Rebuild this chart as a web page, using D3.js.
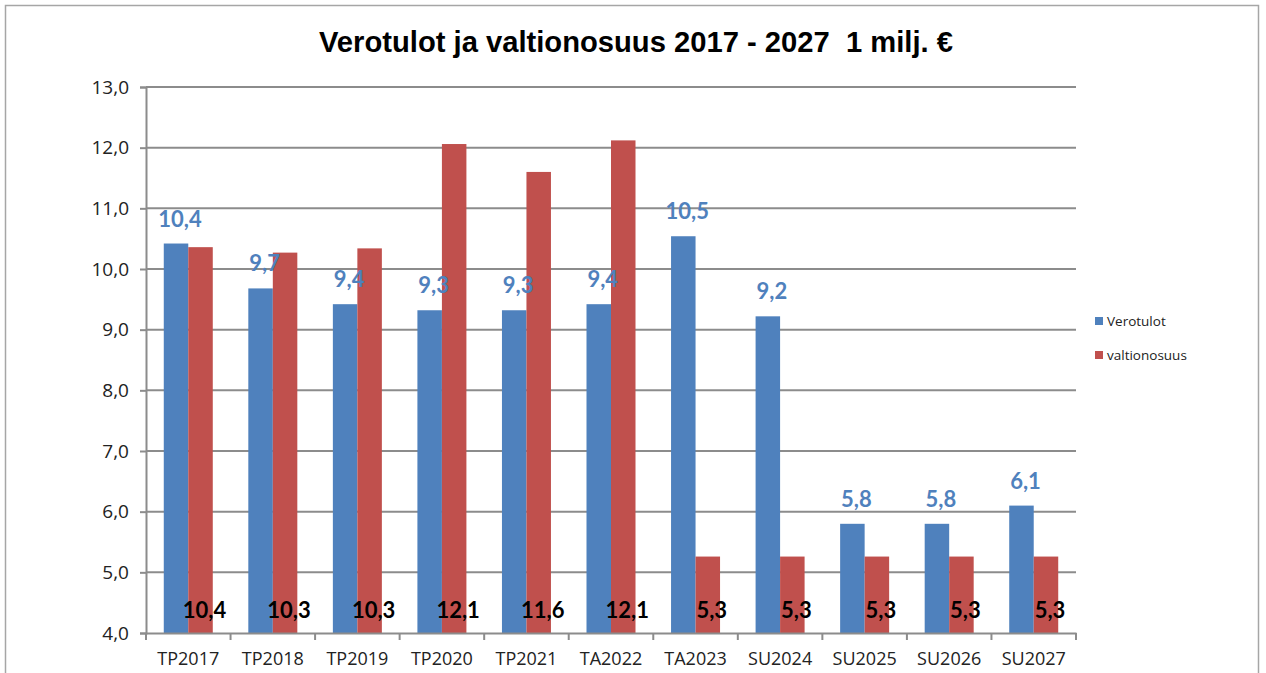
<!DOCTYPE html>
<html>
<head>
<meta charset="utf-8">
<script src="https://cdn.jsdelivr.net/npm/d3@7"></script>
<style>
  body { margin: 0; background: #fff; }
  svg text { font-family: Lato, "Open Sans", sans-serif; }
</style>
</head>
<body>
<svg id="chart" width="1266" height="673"></svg>
<script>
// data
var categories = ["TP2017", "TP2018", "TP2019", "TP2020", "TP2021", "TA2022", "TA2023", "SU2024", "SU2025", "SU2026", "SU2027"];
var verotulot = [10.42, 9.68, 9.42, 9.32, 9.32, 9.42, 10.54, 9.22, 5.8, 5.8, 6.1];
var valtionosuus = [10.36, 10.27, 10.34, 12.06, 11.6, 12.12, 5.26, 5.26, 5.26, 5.26, 5.26];
var seriesNames = ["Verotulot", "valtionosuus"];
var yTicks = [4, 5, 6, 7, 8, 9, 10, 11, 12, 13];

var colors = ["#4F81BD", "#C0504D"];
var svg = d3.select("#chart");

var fmt = function (v) { return v.toFixed(1).replace(".", ","); };

// outer frame
svg.append("rect")
    .attr("x", 5.5).attr("y", 5.5)
    .attr("width", 1253).attr("height", 680)
    .attr("fill", "none").attr("stroke", "#a6a6a6").attr("stroke-width", 1.5);

svg.append("text")
    .attr("x", 636).attr("y", 52)
    .attr("text-anchor", "middle")
    .style("font-family", "'Liberation Sans Narrow', 'Liberation Sans', Arial, sans-serif")
    .style("font-weight", "bold").style("font-size", "29px")
    .style("white-space", "pre")
    .attr("textLength", 634).attr("lengthAdjust", "spacingAndGlyphs")
    .text("Verotulot ja valtionosuus 2017 - 2027  1 milj. €");

var xScale = d3.scaleBand()
    .range([146, 1076])
    .domain(categories);

var yScale = d3.scaleLinear()
    .range([633, 87])
    .domain([4, 13]);

var barW = 24.5;

// grid
svg.append("g")
    .selectAll("line")
    .data(yTicks.slice(1))
    .enter().append("line")
    .attr("x1", 146).attr("x2", 1076)
    .attr("y1", function (d) { return yScale(d); })
    .attr("y2", function (d) { return yScale(d); })
    .attr("stroke", "#8c8c8c").attr("stroke-width", 2);

// y axis
var yAxis = svg.append("g")
    .attr("transform", "translate(146,0)")
    .call(d3.axisLeft(yScale).tickValues(yTicks).tickSize(6).tickFormat(fmt));
yAxis.select(".domain").attr("stroke", "#8c8c8c").attr("stroke-width", 2);
yAxis.selectAll(".tick line").attr("stroke", "#8c8c8c").attr("stroke-width", 2);
yAxis.selectAll(".tick text")
    .attr("x", -17)
    .style("font-family", "'Open Sans', sans-serif")
    .style("font-size", "19px").attr("fill", "#222");

// bars
var groups = svg.append("g")
    .selectAll("g")
    .data(categories)
    .enter().append("g");

groups.append("rect")
    .attr("x", function (d) { return xScale(d) + xScale.bandwidth() / 2 - barW; })
    .attr("y", function (d, i) { return yScale(verotulot[i]); })
    .attr("width", barW)
    .attr("height", function (d, i) { return yScale(4) - yScale(verotulot[i]); })
    .attr("fill", colors[0]);

groups.append("rect")
    .attr("x", function (d) { return xScale(d) + xScale.bandwidth() / 2; })
    .attr("y", function (d, i) { return yScale(valtionosuus[i]); })
    .attr("width", barW)
    .attr("height", function (d, i) { return yScale(4) - yScale(valtionosuus[i]); })
    .attr("fill", colors[1]);

// x axis
var xAxis = svg.append("g")
    .attr("transform", "translate(0,633)")
    .call(d3.axisBottom(xScale).tickSize(0).tickPadding(19));
xAxis.select(".domain").attr("stroke", "#8c8c8c").attr("stroke-width", 2);
xAxis.selectAll(".tick text")
    .style("font-family", "'Open Sans', sans-serif")
    .style("font-size", "18px").attr("fill", "#222");
svg.append("g")
    .selectAll("line")
    .data(categories.concat([null]))
    .enter().append("line")
    .attr("x1", function (d, i) { return 146 + i * xScale.bandwidth(); })
    .attr("x2", function (d, i) { return 146 + i * xScale.bandwidth(); })
    .attr("y1", 633).attr("y2", 640)
    .attr("stroke", "#8c8c8c").attr("stroke-width", 2);

// labels
groups.append("text")
    .attr("x", function (d) { return xScale(d) + xScale.bandwidth() / 2 - barW / 2 + 4; })
    .attr("y", function (d, i) { return yScale(verotulot[i]) - 17; })
    .attr("text-anchor", "middle")
    .style("font-weight", "bold").style("font-size", "22px")
    .attr("fill", "#4F81BD")
    .text(function (d, i) { return fmt(verotulot[i]); });

groups.append("text")
    .attr("x", function (d) { return xScale(d) + xScale.bandwidth() / 2 + barW / 2 + 4; })
    .attr("y", 618)
    .attr("text-anchor", "middle")
    .style("font-weight", "bold").style("font-size", "22px")
    .attr("fill", "#000")
    .text(function (d, i) { return fmt(valtionosuus[i]); });

// legend
var legend = svg.append("g")
    .selectAll("g")
    .data(seriesNames)
    .enter().append("g")
    .attr("transform", function (d, i) { return "translate(1095," + (321 + i * 34) + ")"; });
legend.append("rect")
    .attr("x", 0).attr("y", -4).attr("width", 8).attr("height", 8)
    .attr("fill", function (d, i) { return colors[i]; });
legend.append("text")
    .attr("x", 12).attr("y", 5)
    .style("font-family", "'Open Sans', sans-serif")
    .style("font-size", "13.5px").attr("fill", "#222")
    .text(function (d) { return d; });
</script>
</body>
</html>
